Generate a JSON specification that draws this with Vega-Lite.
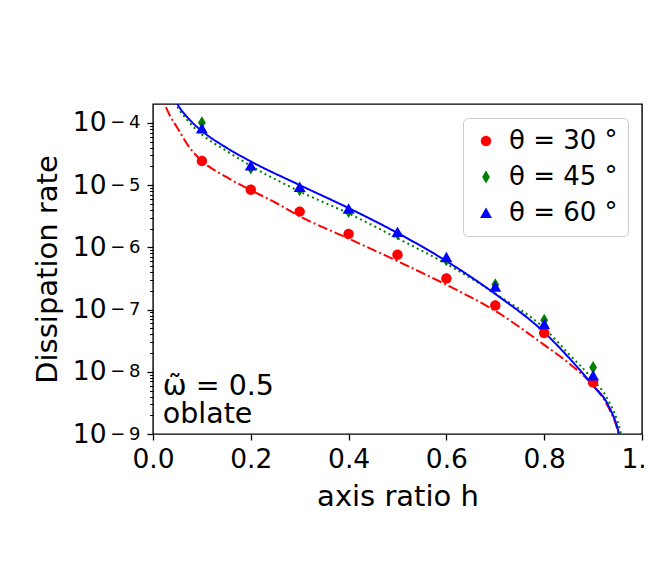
{
  "$schema": "https://vega.github.io/schema/vega-lite/v6.json",
  "width": 489,
  "height": 330,
  "autosize": {"type": "none"},
  "padding": {"left": 153, "top": 104, "right": 6, "bottom": 145},
  "background": "white",
  "config": {
    "view": {"stroke": "black", "strokeWidth": 1.4},
    "font": "DejaVu Sans",
    "axis": {
      "grid": false,
      "domain": false,
      "tickColor": "black",
      "tickWidth": 1.3,
      "labelColor": "black",
      "titleColor": "black",
      "labelFont": "DejaVu Sans",
      "titleFont": "DejaVu Sans",
      "titleFontWeight": "normal"
    },
    "legend": {
      "orient": "top-right",
      "offset": 14,
      "labelFontSize": 26,
      "labelFont": "DejaVu Sans",
      "labelColor": "black",
      "symbolSize": 169,
      "padding": 10,
      "rowPadding": 10,
      "labelOffset": 10,
      "strokeColor": "#cccccc",
      "cornerRadius": 5,
      "fillColor": "white"
    }
  },
  "datasets": {
    "curves": [
      {"h": 0.012, "v": 3.3e-4, "curve": "30°"},
      {"h": 0.02, "v": 2.34e-4, "curve": "30°"},
      {"h": 0.035, "v": 1.29e-4, "curve": "30°"},
      {"h": 0.05, "v": 8.3e-5, "curve": "30°"},
      {"h": 0.075, "v": 3.98e-5, "curve": "30°"},
      {"h": 0.1, "v": 2.45e-5, "curve": "30°"},
      {"h": 0.15, "v": 1.35e-5, "curve": "30°"},
      {"h": 0.2, "v": 8.3e-6, "curve": "30°"},
      {"h": 0.25, "v": 5.25e-6, "curve": "30°"},
      {"h": 0.3, "v": 3.16e-6, "curve": "30°"},
      {"h": 0.4, "v": 1.38e-6, "curve": "30°"},
      {"h": 0.5, "v": 6.0e-7, "curve": "30°"},
      {"h": 0.6, "v": 2.5e-7, "curve": "30°"},
      {"h": 0.7, "v": 9.5e-8, "curve": "30°"},
      {"h": 0.8, "v": 2.7e-8, "curve": "30°"},
      {"h": 0.85, "v": 1.38e-8, "curve": "30°"},
      {"h": 0.9, "v": 6.0e-9, "curve": "30°"},
      {"h": 0.93, "v": 2.8e-9, "curve": "30°"},
      {"h": 0.952, "v": 1.0e-9, "curve": "30°"},
      {"h": 0.96, "v": 5.0e-10, "curve": "30°"},
      {"h": 0.04, "v": 2.6e-4, "curve": "45°"},
      {"h": 0.047, "v": 2.0e-4, "curve": "45°"},
      {"h": 0.075, "v": 1.0e-4, "curve": "45°"},
      {"h": 0.1, "v": 6.5e-5, "curve": "45°"},
      {"h": 0.15, "v": 3.55e-5, "curve": "45°"},
      {"h": 0.2, "v": 2.04e-5, "curve": "45°"},
      {"h": 0.3, "v": 7.9e-6, "curve": "45°"},
      {"h": 0.4, "v": 3.5e-6, "curve": "45°"},
      {"h": 0.5, "v": 1.4e-6, "curve": "45°"},
      {"h": 0.6, "v": 5.4e-7, "curve": "45°"},
      {"h": 0.7, "v": 1.8e-7, "curve": "45°"},
      {"h": 0.8, "v": 5.0e-8, "curve": "45°"},
      {"h": 0.85, "v": 1.95e-8, "curve": "45°"},
      {"h": 0.9, "v": 7.4e-9, "curve": "45°"},
      {"h": 0.93, "v": 3.6e-9, "curve": "45°"},
      {"h": 0.957, "v": 1.0e-9, "curve": "45°"},
      {"h": 0.965, "v": 5.0e-10, "curve": "45°"},
      {"h": 0.04, "v": 2.8e-4, "curve": "60°"},
      {"h": 0.05, "v": 2.0e-4, "curve": "60°"},
      {"h": 0.075, "v": 1.12e-4, "curve": "60°"},
      {"h": 0.1, "v": 7.4e-5, "curve": "60°"},
      {"h": 0.15, "v": 4.0e-5, "curve": "60°"},
      {"h": 0.2, "v": 2.4e-5, "curve": "60°"},
      {"h": 0.3, "v": 1.0e-5, "curve": "60°"},
      {"h": 0.4, "v": 4.27e-6, "curve": "60°"},
      {"h": 0.5, "v": 1.7e-6, "curve": "60°"},
      {"h": 0.6, "v": 6.0e-7, "curve": "60°"},
      {"h": 0.7, "v": 1.78e-7, "curve": "60°"},
      {"h": 0.8, "v": 4.3e-8, "curve": "60°"},
      {"h": 0.85, "v": 1.7e-8, "curve": "60°"},
      {"h": 0.9, "v": 6.0e-9, "curve": "60°"},
      {"h": 0.93, "v": 3.0e-9, "curve": "60°"},
      {"h": 0.953, "v": 1.0e-9, "curve": "60°"},
      {"h": 0.96, "v": 5.5e-10, "curve": "60°"}
    ],
    "markers": [
      {"h": 0.1, "v": 2.44e-5, "series": "θ = 30 °"},
      {"h": 0.2, "v": 8.4e-6, "series": "θ = 30 °"},
      {"h": 0.3, "v": 3.75e-6, "series": "θ = 30 °"},
      {"h": 0.4, "v": 1.64e-6, "series": "θ = 30 °"},
      {"h": 0.5, "v": 7.6e-7, "series": "θ = 30 °"},
      {"h": 0.6, "v": 3.16e-7, "series": "θ = 30 °"},
      {"h": 0.7, "v": 1.16e-7, "series": "θ = 30 °"},
      {"h": 0.8, "v": 4.2e-8, "series": "θ = 30 °"},
      {"h": 0.9, "v": 6.7e-9, "series": "θ = 30 °"},
      {"h": 0.1, "v": 1.0e-4, "series": "θ = 45 °"},
      {"h": 0.2, "v": 1.88e-5, "series": "θ = 45 °"},
      {"h": 0.3, "v": 8.4e-6, "series": "θ = 45 °"},
      {"h": 0.4, "v": 3.75e-6, "series": "θ = 45 °"},
      {"h": 0.5, "v": 1.65e-6, "series": "θ = 45 °"},
      {"h": 0.6, "v": 6.3e-7, "series": "θ = 45 °"},
      {"h": 0.7, "v": 2.5e-7, "series": "θ = 45 °"},
      {"h": 0.8, "v": 6.7e-8, "series": "θ = 45 °"},
      {"h": 0.9, "v": 1.17e-8, "series": "θ = 45 °"},
      {"h": 0.1, "v": 8.1e-5, "series": "θ = 60 °"},
      {"h": 0.2, "v": 2.05e-5, "series": "θ = 60 °"},
      {"h": 0.3, "v": 9.3e-6, "series": "θ = 60 °"},
      {"h": 0.4, "v": 4.15e-6, "series": "θ = 60 °"},
      {"h": 0.5, "v": 1.75e-6, "series": "θ = 60 °"},
      {"h": 0.6, "v": 6.9e-7, "series": "θ = 60 °"},
      {"h": 0.7, "v": 2.32e-7, "series": "θ = 60 °"},
      {"h": 0.8, "v": 5.8e-8, "series": "θ = 60 °"},
      {"h": 0.9, "v": 8.7e-9, "series": "θ = 60 °"}
    ],
    "notes": [
      {"h": 0.02, "v": 4.28e-9, "label": "ω̃ = 0.5"},
      {"h": 0.02, "v": 1.52e-9, "label": "oblate"}
    ]
  },
  "encoding": {
    "x": {
      "field": "h",
      "type": "quantitative",
      "scale": {"domain": [0, 1], "nice": false, "zero": false},
      "axis": {
        "values": [0, 0.2, 0.4, 0.6, 0.8, 1.0],
        "format": ".1f",
        "labelFontSize": 26.5,
        "tickSize": 6,
        "labelPadding": 6,
        "labelFlush": false,
        "labelOverlap": false,
        "title": "axis ratio h",
        "titleFontSize": 29,
        "titlePadding": 10
      }
    }
  },
  "layer": [
    {
      "data": {"name": "curves"},
      "mark": {"type": "line", "clip": true, "strokeWidth": 2, "interpolate": "monotone"},
      "encoding": {
        "y": {
          "field": "v",
          "type": "quantitative",
          "scale": {"type": "log", "domain": [1e-9, 2.01e-4], "nice": false},
          "axis": {
            "orient": "left",
            "values": [1e-9, 1e-8, 1e-7, 1e-6, 1e-5, 1e-4],
            "labelExpr": "'10'",
            "labelFontSize": 26.5,
            "tickSize": 6,
            "labelPadding": 41,
            "labelBaseline": "middle",
            "title": "Dissipation rate",
            "titleFontSize": 29,
            "titlePadding": 10
          }
        },
        "stroke": {
          "field": "curve",
          "type": "nominal",
          "scale": {"domain": ["30°", "45°", "60°"], "range": ["#ff0000", "#008000", "#0000ff"]},
          "legend": null
        },
        "strokeDash": {
          "field": "curve",
          "type": "nominal",
          "scale": {"domain": ["30°", "45°", "60°"], "range": [[10, 3, 2, 3], [2, 3.3], [1, 0]]},
          "legend": null
        }
      }
    },
    {
      "data": {"name": "markers"},
      "mark": {"type": "point", "filled": true, "opacity": 1, "size": 169},
      "encoding": {
        "y": {
          "field": "v",
          "type": "quantitative",
          "axis": {
            "orient": "left",
            "values": [1e-9, 1e-8, 1e-7, 1e-6, 1e-5, 1e-4],
            "labelExpr": "['−\u20099','−\u20098','−\u20097','−\u20096','−\u20095','−\u20094'][round(log(datum.value)/LN10)+9]",
            "labelFontSize": 18,
            "ticks": false,
            "tickSize": 0,
            "labelPadding": 13,
            "labelBaseline": "middle",
            "labelDy": -7,
            "title": null
          }
        },
        "color": {
          "field": "series",
          "type": "nominal",
          "scale": {"domain": ["θ = 30 °", "θ = 45 °", "θ = 60 °"], "range": ["#ff0000", "#008000", "#0000ff"]},
          "legend": {"title": null}
        },
        "shape": {
          "field": "series",
          "type": "nominal",
          "scale": {
            "domain": ["θ = 30 °", "θ = 45 °", "θ = 60 °"],
            "range": [
              "M0.8,0A0.8,0.8,0,1,1,-0.8,0A0.8,0.8,0,1,1,0.8,0Z",
              "M0,-1L0.6,0L0,1L-0.6,0Z",
              "M0,-0.85L0.92,0.75L-0.92,0.75Z"
            ]
          },
          "legend": {"title": null}
        }
      }
    },
    {
      "data": {"name": "notes"},
      "mark": {"type": "text", "align": "left", "baseline": "alphabetic", "fontSize": 28.5, "font": "DejaVu Sans", "color": "black"},
      "encoding": {
        "y": {
          "field": "v",
          "type": "quantitative",
          "axis": {
            "orient": "left",
            "values": [2e-9, 3e-9, 4e-9, 5e-9, 6e-9, 7e-9, 8e-9, 9e-9, 2e-8, 3e-8, 4e-8, 5e-8, 6e-8, 7e-8, 8e-8, 9e-8, 2e-7, 3e-7, 4e-7, 5e-7, 6e-7, 7e-7, 8e-7, 9e-7, 2e-6, 3e-6, 4e-6, 5e-6, 6e-6, 7e-6, 8e-6, 9e-6, 2e-5, 3e-5, 4e-5, 5e-5, 6e-5, 7e-5, 8e-5, 9e-5],
            "labels": false,
            "tickSize": 3.5,
            "tickWidth": 1,
            "title": null
          }
        },
        "text": {"field": "label", "type": "nominal"}
      }
    }
  ],
  "resolve": {"scale": {"y": "shared"}, "axis": {"y": "independent"}}
}
